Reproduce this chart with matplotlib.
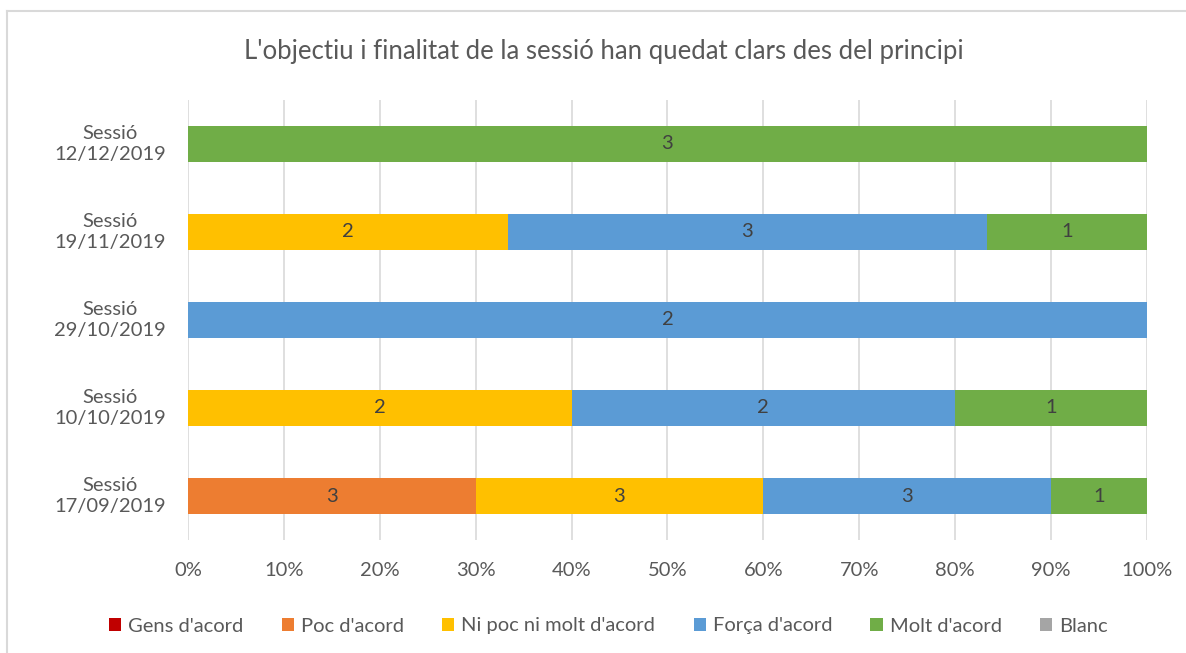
import matplotlib.pyplot as plt
import numpy as np
from matplotlib.lines import Line2D

plt.rcParams['font.family'] = ['Lato', 'DejaVu Sans']

sessions = ['Sessió\n17/09/2019', 'Sessió\n10/10/2019', 'Sessió\n29/10/2019',
            'Sessió\n19/11/2019', 'Sessió\n12/12/2019']
answers = ["Gens d'acord", "Poc d'acord", "Ni poc ni molt d'acord",
           "Força d'acord", "Molt d'acord", "Blanc"]
gens = [0, 0, 0, 0, 0]
poc = [3, 0, 0, 0, 0]
ni = [3, 2, 0, 2, 0]
forca = [3, 2, 2, 3, 0]
molt = [1, 1, 0, 1, 3]
blanc = [0, 0, 0, 0, 0]
colors = ['#C00000', '#ED7D31', '#FFC000', '#5B9BD5', '#70AD47', '#A5A5A5']
title = "L'objectiu i finalitat de la sessió han quedat clars des del principi"

counts = np.array([gens, poc, ni, forca, molt, blanc], dtype=float)
totals = counts.sum(axis=0)
shares = counts / totals * 100

fig = plt.figure(figsize=(11.86, 6.53), dpi=100)
ax = fig.add_axes([0.1585, 0.173, 0.8085, 0.674])

y = np.arange(len(sessions))
left = np.zeros(len(sessions))
for i in range(len(answers)):
    ax.barh(y, shares[i], left=left, height=0.41, color=colors[i], label=answers[i], zorder=2)
    for j in range(len(sessions)):
        if counts[i][j] > 0:
            ax.text(left[j] + shares[i][j] / 2, y[j], '%d' % counts[i][j],
                    ha='center', va='center', fontsize=14.5, color='#404040', zorder=3)
    left = left + shares[i]

ax.set_xlim(0, 100)
ax.set_ylim(-0.5, 4.5)
ax.set_xticks(np.arange(0, 101, 10))
ax.set_xticklabels(['%d%%' % v for v in range(0, 101, 10)])
ax.set_yticks(y)
ax.set_yticklabels([])
ax.tick_params(length=0, labelsize=14.5, labelcolor='#595959', pad=16)
# session labels, centred on their own column
for j in range(len(sessions)):
    ax.text(-0.081, y[j], sessions[j], transform=ax.get_yaxis_transform(),
            ha='center', va='center', fontsize=14.5, color='#595959', linespacing=1.3)
ax.grid(axis='x', color='#D9D9D9', linewidth=1.2, zorder=0)
for s in ax.spines.values():
    s.set_visible(False)

fig.text(0.509, 1 - 52 / 653, title, ha='center', va='center', fontsize=18.5, color='#595959')

fig.legend(loc='center', bbox_to_anchor=(0.513, 1 - 626 / 653), ncol=6, frameon=False,
           fontsize=14.5, labelcolor='#595959', handlelength=0.6, handleheight=0.6,
           handletextpad=0.35, columnspacing=1.9)

# chart border (top and left only visible)
fig.add_artist(Line2D([7 / 1186, 7 / 1186], [0, 1 - 11 / 653], transform=fig.transFigure,
                      color='#D9D9D9', linewidth=1.5))
fig.add_artist(Line2D([7 / 1186, 1], [1 - 11 / 653, 1 - 11 / 653], transform=fig.transFigure,
                      color='#D9D9D9', linewidth=1.5))

fig.savefig('out.png', dpi=100)
